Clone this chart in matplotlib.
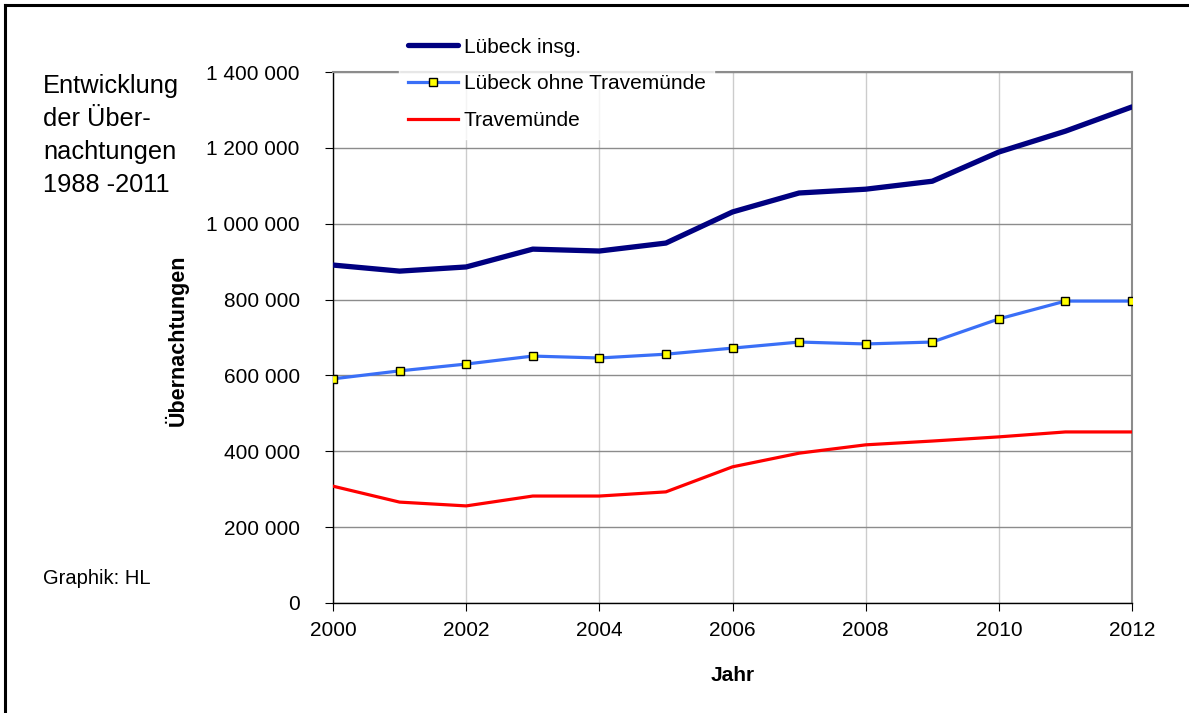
import numpy as np
import matplotlib.pyplot as plt
from matplotlib.ticker import FuncFormatter, MultipleLocator
from matplotlib.lines import Line2D

plt.rcParams['font.family'] = ['Liberation Sans', 'DejaVu Sans']

# Data
years = [2000, 2001, 2002, 2003, 2004, 2005, 2006, 2007, 2008, 2009, 2010, 2011, 2012]
luebeck_total = [891000, 875000, 886000, 933000, 928000, 949000, 1031000, 1081000,
                 1091000, 1112000, 1189000, 1244000, 1308000]
luebeck_ohne = [591000, 612000, 630000, 651000, 646000, 656000, 672000, 688000,
                683000, 688000, 749000, 796000, 796000]
travemuende = [308000, 266000, 256000, 282000, 282000, 293000, 359000, 395000,
               417000, 427000, 438000, 451000, 451000]

W, H = 1189, 713
fig = plt.figure(figsize=(W / 100, H / 100), dpi=100)
ax = fig.add_axes([333 / W, 1 - 603 / H, (1132 - 333) / W, (603 - 72) / H])

ax.plot(years, luebeck_total, color='#000080', lw=3.8, label='Lübeck insg.',
        solid_capstyle='round', zorder=3)
ax.plot(years, luebeck_ohne, color='#3a6ff7', lw=2.3, marker='s', markersize=5.5,
        markerfacecolor='#ffff00', markeredgecolor='black', markeredgewidth=1.0,
        label='Lübeck ohne Travemünde', zorder=4)
ax.plot(years, travemuende, color='#ff0000', lw=2.3, label='Travemünde', zorder=3)

ax.set_xlim(2000, 2012)
ax.set_ylim(0, 1400000)
ax.xaxis.set_major_locator(MultipleLocator(2))
ax.yaxis.set_major_locator(MultipleLocator(200000))
ax.yaxis.set_major_formatter(FuncFormatter(lambda v, p: f'{int(v):,}'.replace(',', ' ')))

ax.grid(axis='y', color='#8c8c8c', lw=1.0)
ax.grid(axis='x', color='#cccccc', lw=1.0)
ax.set_axisbelow(True)

for s in ['top', 'right']:
    ax.spines[s].set_color('#8c8c8c')
    ax.spines[s].set_linewidth(1.5)
for s in ['left', 'bottom']:
    ax.spines[s].set_color('black')
    ax.spines[s].set_linewidth(1.0)

ax.tick_params(axis='both', labelsize=15, length=6, direction='out', color='black')
ax.tick_params(axis='y', pad=18)
ax.tick_params(axis='x', pad=7)

ax.set_ylabel('Übernachtungen', fontsize=15.5, fontweight='bold')
ax.yaxis.set_label_coords((189 - 333) / 799, (603 - 340) / 531)
ax.set_xlabel('Jahr', fontsize=15, fontweight='bold')
ax.xaxis.set_label_coords(0.5, -(666 - 603) / 531)

leg = fig.legend(loc='upper left', bbox_to_anchor=(389 / W, 1 - 19 / H),
                 fontsize=15, frameon=True, handlelength=2.4, handletextpad=0.3,
                 labelspacing=0.85, borderpad=0.4, fancybox=False)
leg.get_frame().set_facecolor('white')
leg.get_frame().set_edgecolor('white')

fig.text(43 / W, 1 - 74 / H, 'Entwicklung\nder Über-\nnachtungen\n1988 -2011',
         fontsize=18.3, va='top', ha='left', linespacing=1.48)
fig.text(43 / W, 1 - 579 / H, 'Graphik: HL', fontsize=14.5, va='center', ha='left')

# outer frame (only top and left visible in the reference)
fig.add_artist(Line2D([5 / W, 5 / W], [0, 1 - 5 / H], color='black', lw=2.2,
                      transform=fig.transFigure))
fig.add_artist(Line2D([5 / W, 1], [1 - 5 / H, 1 - 5 / H], color='black', lw=2.2,
                      transform=fig.transFigure))

fig.savefig('out.png', dpi=100)
